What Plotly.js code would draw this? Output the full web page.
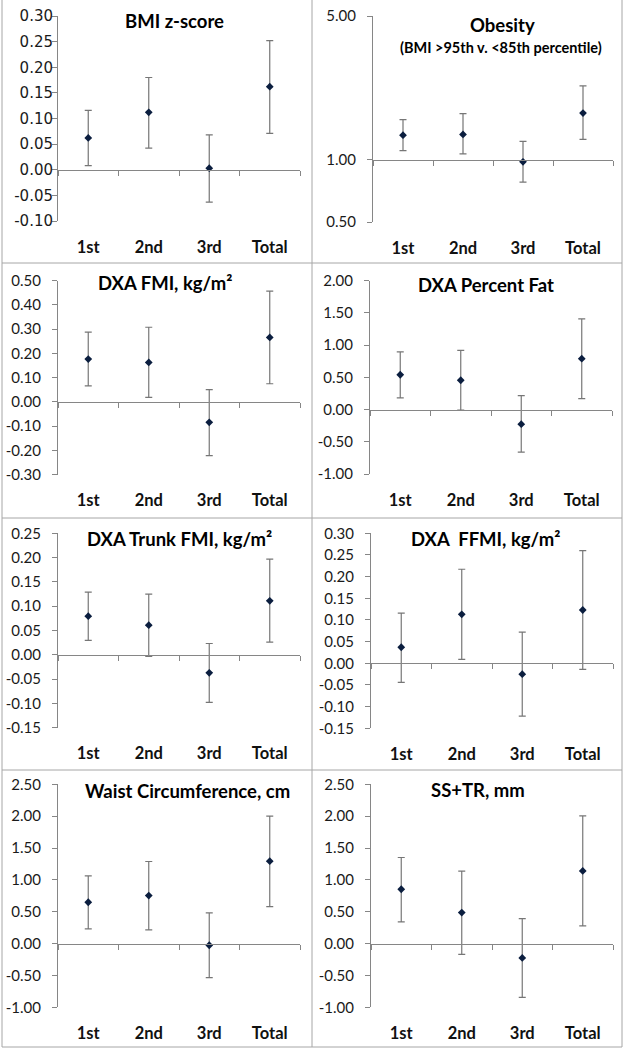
<!DOCTYPE html>
<html>
<head>
<meta charset="utf-8">
<script src="https://cdn.plot.ly/plotly-3.0.1.min.js"></script>
<style>html,body{margin:0;padding:0;background:#fff;}#chart{width:625px;height:1050px;}</style>
</head>
<body>
<div id="chart"></div>
<script>
// ---------- data ----------
const categories = ['1st', '2nd', '3rd', 'Total'];

const titles = ['BMI z-score', 'Obesity', 'DXA FMI, kg/m\u00b2', 'DXA Percent Fat',
                'DXA Trunk FMI, kg/m\u00b2', 'DXA\u00a0 FFMI, kg/m\u00b2', 'Waist Circumference, cm', 'SS+TR, mm'];
const obesitySubtitle = '(BMI >95th v. <85th percentile)';

const bmiZ    = [0.062, 0.112, 0.003, 0.162];
const bmiZLo  = [0.008, 0.042, -0.063, 0.071];
const bmiZHi  = [0.116, 0.180, 0.068, 0.252];

const obesity   = [1.32, 1.33, 0.98, 1.69];
const obesityLo = [1.11, 1.07, 0.78, 1.26];
const obesityHi = [1.57, 1.68, 1.23, 2.29];

const fmi   = [0.177, 0.163, -0.084, 0.266];
const fmiLo = [0.066, 0.019, -0.221, 0.075];
const fmiHi = [0.288, 0.308, 0.051, 0.457];

const pctFat   = [0.54, 0.455, -0.227, 0.79];
const pctFatLo = [0.18, -0.01, -0.661, 0.17];
const pctFatHi = [0.894, 0.92, 0.217, 1.406];

const trunkFmi   = [0.0795, 0.061, -0.037, 0.111];
const trunkFmiLo = [0.0295, -0.0034, -0.098, 0.026];
const trunkFmiHi = [0.129, 0.125, 0.0233, 0.197];

const ffmi   = [0.037, 0.113, -0.025, 0.123];
const ffmiLo = [-0.044, 0.0092, -0.122, -0.0138];
const ffmiHi = [0.116, 0.217, 0.072, 0.26];

const waist   = [0.649, 0.754, -0.026, 1.293];
const waistLo = [0.230, 0.215, -0.534, 0.581];
const waistHi = [1.063, 1.288, 0.482, 2.0];

const ssTr   = [0.853, 0.487, -0.225, 1.141];
const ssTrLo = [0.340, -0.168, -0.843, 0.277];
const ssTrHi = [1.351, 1.136, 0.393, 2.005];

// y-axis tick values (labels are these values with two decimals)
const bmiZTicks     = [-0.10, -0.05, 0.00, 0.05, 0.10, 0.15, 0.20, 0.25, 0.30];
const obesityTicks  = [0.5, 1, 5];
const fmiTicks      = [-0.30, -0.20, -0.10, 0.00, 0.10, 0.20, 0.30, 0.40, 0.50];
const pctFatTicks   = [-1.00, -0.50, 0.00, 0.50, 1.00, 1.50, 2.00];
const trunkFmiTicks = [-0.15, -0.10, -0.05, 0.00, 0.05, 0.10, 0.15, 0.20, 0.25];
const ffmiTicks     = [-0.15, -0.10, -0.05, 0.00, 0.05, 0.10, 0.15, 0.20, 0.25, 0.30];
const waistTicks    = [-1.00, -0.50, 0.00, 0.50, 1.00, 1.50, 2.00, 2.50];
const ssTrTicks     = [-1.00, -0.50, 0.00, 0.50, 1.00, 1.50, 2.00, 2.50];

const yTicks  = [bmiZTicks, obesityTicks, fmiTicks, pctFatTicks, trunkFmiTicks, ffmiTicks, waistTicks, ssTrTicks];
const yCross  = [0, 1, 0, 0, 0, 0, 0, 0];

// ---------- layout geometry (pixels) ----------
const W = 625, H = 1050;
const panels = [
  {x: [58, 300],  y: [16, 221],      title: [174, 21],  tickFont: 'DejaVu Sans', tickSize: 15, standoff: -4},
  {x: [373, 613], y: [16, 222],      title: [502, 25],  tickFont: 'Lato', tickSize: 15, standoff: 8},
  {x: [58, 300],  y: [280.7, 474.7], title: [165, 283], tickFont: 'Lato', tickSize: 15, standoff: 8},
  {x: [370, 612], y: [280.7, 474],   title: [486, 285], tickFont: 'Lato', tickSize: 15, standoff: 8},
  {x: [58, 300],  y: [533.3, 727.7], title: [179, 539], tickFont: 'Lato', tickSize: 15, standoff: 8},
  {x: [371, 613], y: [533.3, 728.3], title: [485, 539], tickFont: 'Lato', tickSize: 15, standoff: 8},
  {x: [58, 300],  y: [784.3, 1007.3],title: [187, 791], tickFont: 'Lato', tickSize: 15, standoff: 8},
  {x: [371, 613], y: [784.3, 1007.3],title: [478, 790], tickFont: 'Lato', tickSize: 15, standoff: 8}
];

const series = [
  [bmiZ, bmiZLo, bmiZHi], [obesity, obesityLo, obesityHi], [fmi, fmiLo, fmiHi], [pctFat, pctFatLo, pctFatHi],
  [trunkFmi, trunkFmiLo, trunkFmiHi], [ffmi, ffmiLo, ffmiHi], [waist, waistLo, waistHi], [ssTr, ssTrLo, ssTrHi]
];

const axisGray = '#868686';
const traces = [];
const layout = {
  width: W, height: H,
  margin: {l: 0, r: 0, t: 0, b: 0},
  showlegend: false,
  paper_bgcolor: '#ffffff',
  plot_bgcolor: 'rgba(0,0,0,0)',
  font: {family: 'Lato, sans-serif', color: '#111111'},
  annotations: [],
  shapes: []
};

panels.forEach((p, i) => {
  const n = i + 1;
  const sfx = n === 1 ? '' : String(n);
  const ov = String(n + 8);
  const xd = [p.x[0] / W, p.x[1] / W];
  const yd = [1 - p.y[1] / H, 1 - p.y[0] / H];
  const isLog = (i === 1);
  const [vals, lo, hi] = series[i];
  const ticks = yTicks[i];
  const rMin = ticks[0], rMax = ticks[ticks.length - 1];

  traces.push({
    type: 'scatter', mode: 'markers',
    x: categories, y: vals,
    xaxis: 'x' + sfx, yaxis: 'y' + sfx,
    marker: {symbol: 'diamond', size: 6, color: '#0b1e3f'},
    error_y: {
      type: 'data', symmetric: false,
      array: vals.map((v, k) => hi[k] - v),
      arrayminus: vals.map((v, k) => v - lo[k]),
      color: '#767676', thickness: 1.2, width: 3.5
    },
    hoverinfo: 'skip', cliponaxis: false
  });
  // invisible trace to carry the crossing axis
  traces.push({
    type: 'scatter', mode: 'markers', x: categories, y: categories.map(() => null),
    xaxis: 'x' + ov, yaxis: 'y' + sfx, hoverinfo: 'skip', showlegend: false
  });

  layout['xaxis' + sfx] = {
    domain: xd, anchor: 'y' + sfx, type: 'category', categoryarray: categories,
    range: [-0.5, 3.5], showline: false, showgrid: false, zeroline: false, ticks: '',
    tickfont: {family: 'Lato, sans-serif', size: 16.5, color: '#111111', weight: 'bold'},
    ticklabelstandoff: 14, fixedrange: true
  };

  // crossing (horizontal) axis position
  let frac;
  if (isLog) frac = (Math.log10(yCross[i]) - Math.log10(rMin)) / (Math.log10(rMax) - Math.log10(rMin));
  else frac = (yCross[i] - rMin) / (rMax - rMin);
  layout['xaxis' + ov] = {
    domain: xd, overlaying: 'x' + sfx, anchor: 'free', position: yd[0] + frac * (yd[1] - yd[0]),
    type: 'category', categoryarray: categories, range: [-0.5, 3.5],
    showline: true, linecolor: axisGray, linewidth: 1,
    ticks: 'outside', tickson: 'boundaries', ticklen: 5, tickcolor: axisGray,
    showticklabels: false, showgrid: false, zeroline: false, fixedrange: true
  };

  layout['yaxis' + sfx] = {
    domain: yd, anchor: 'x' + sfx,
    type: isLog ? 'log' : 'linear',
    range: isLog ? [Math.log10(rMin), Math.log10(rMax)] : [rMin, rMax],
    tickmode: 'array', tickvals: ticks, ticktext: ticks.map(t => t.toFixed(2)),
    showline: true, linecolor: axisGray, linewidth: 1,
    ticks: 'outside', ticklen: 5, tickcolor: axisGray,
    showgrid: false, zeroline: false, fixedrange: true,
    tickfont: {family: p.tickFont + ', sans-serif', size: p.tickSize, color: '#1a1a1a'},
    ticklabelstandoff: p.standoff
  };

  layout.annotations.push({
    xref: 'paper', yref: 'paper', x: p.title[0] / W, y: 1 - p.title[1] / H,
    xanchor: 'center', yanchor: 'middle', showarrow: false, text: titles[i],
    font: {family: 'Lato, sans-serif', size: 18.5, color: '#000000', weight: 'bold'}
  });
});

layout.annotations.push({
  xref: 'paper', yref: 'paper', x: 501 / W, y: 1 - 47 / H,
  xanchor: 'center', yanchor: 'middle', showarrow: false, text: obesitySubtitle,
  font: {family: 'Lato, sans-serif', size: 14.5, color: '#000000', weight: 'bold'}
});

// panel frames
const borderColor = '#a6a6a6';
const vLines = [2, 312, 622];
const hLines = [263, 518, 770, 1047];
vLines.forEach(v => layout.shapes.push({type: 'line', xref: 'paper', yref: 'paper',
  x0: v / W, x1: v / W, y0: 1 - 1047 / H, y1: 1, line: {color: borderColor, width: 1}}));
hLines.forEach(h => layout.shapes.push({type: 'line', xref: 'paper', yref: 'paper',
  x0: 2 / W, x1: 622 / W, y0: 1 - h / H, y1: 1 - h / H, line: {color: borderColor, width: 1}}));

Plotly.newPlot('chart', traces, layout, {staticPlot: true, displayModeBar: false});
</script>
</body>
</html>
